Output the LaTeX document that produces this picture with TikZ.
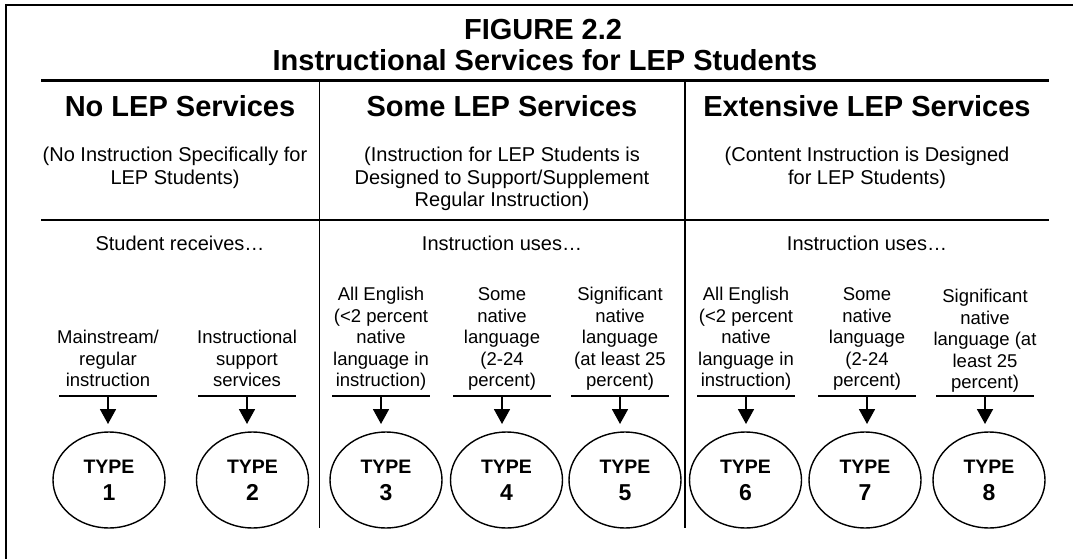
\documentclass[tikz,border=0pt]{standalone}
\usepackage{fontspec}
\setmainfont{Liberation Sans}
\usetikzlibrary{shapes.geometric,arrows.meta}

\begin{document}
\begin{tikzpicture}[x=1pt,y=-1pt,
        heading/.style={anchor=base,font=\bfseries\fontsize{29}{31}\selectfont},
        subhead/.style={anchor=north,align=center,inner sep=0pt,
            font=\fontsize{20}{22.5}\selectfont,execute at begin node=\strut},
        lead/.style={anchor=base,font=\fontsize{20}{22.5}\selectfont},
        choice/.style={anchor=south,align=center,inner sep=0pt,
            font=\fontsize{18.5}{21.5}\selectfont,execute at end node=\strut},
        barline/.style={inner sep=0pt,minimum width=97pt,minimum height=0pt},
        typebox/.style={ellipse,draw,line width=1.4pt,minimum width=112pt,
            minimum height=96pt,inner sep=0pt,outer sep=0pt,align=center,
            font=\bfseries\fontsize{19.5}{27}\selectfont},
        feed/.style={line width=1.8pt,-{Triangle[length=15pt,width=16pt]},
            shorten >=8pt}
        ]
        \useasboundingbox (0,0) rectangle (1073,559);
        % Frame and table rules
        \draw[line width=1.8pt] (1073,5) -- (6,5) -- (6,559);
        \draw[line width=3pt] (41,81) -- (1049,81);
        \draw[line width=1.8pt] (41,220) -- (1049,220);
        \draw[line width=1.8pt] (319.5,81) -- (319.5,528);
        \draw[line width=1.8pt] (685,81) -- (685,528);

        % Title
        \node[heading] (fig) at (543,40) {FIGURE 2.2};
        \node[heading] (figtitle) at (545,71) {Instructional Services for LEP Students};

        %% Column heads
        \node[heading] (none) at (180,117) {No LEP Services};
        \node[heading] (some) at (502,117) {Some LEP Services};
        \node[heading] (ext) at (867,117) {Extensive LEP Services};
        \node[subhead] (noneinfo) at (175,147) {(No Instruction Specifically for\\LEP Students)};
        \node[subhead] (someinfo) at (502,147) {(Instruction for LEP Students is\\Designed to Support/Supplement\\Regular Instruction)};
        \node[subhead] (extinfo) at (867,147) {(Content Instruction is Designed\\for LEP Students)};
        \node[lead] (noneask) at (180,250) {Student receives…};
        \node[lead] (someask) at (502,250) {Instruction uses…};
        \node[lead] (extask) at (867,250) {Instruction uses…};

        %% Choices
        \node[choice] (c1) at (108,393.5) {Mainstream/\\regular\\instruction};
        \node[choice] (c2) at (247,393.5) {Instructional\\support\\services};
        \node[choice] (c3) at (381,393.5) {All English\\(<2 percent\\native\\language in\\instruction)};
        \node[choice] (c4) at (502,393.5) {Some\\native\\language\\(2-24\\percent)};
        \node[choice] (c5) at (620,393.5) {Significant\\native\\language\\(at least 25\\percent)};
        \node[choice] (c6) at (746,393.5) {All English\\(<2 percent\\native\\language in\\instruction)};
        \node[choice] (c7) at (867,393.5) {Some\\native\\language\\(2-24\\percent)};
        \node[choice] (c8) at (985,395.5) {Significant\\native\\language (at\\least 25\\percent)};

        \node[barline] (b1) at (108,396) {};
        \node[barline] (b2) at (247,396) {};
        \node[barline] (b3) at (381,396) {};
        \node[barline] (b4) at (502,396) {};
        \node[barline] (b5) at (620,396) {};
        \node[barline] (b6) at (746,396) {};
        \node[barline] (b7) at (867,396) {};
        \node[barline] (b8) at (985,396) {};

        %% Types
        \node[typebox] (t1) at (109,480) {TYPE\\{\fontsize{23}{27}\selectfont 1}};
        \node[typebox] (t2) at (252.5,480) {TYPE\\{\fontsize{23}{27}\selectfont 2}};
        \node[typebox] (t3) at (386,480) {TYPE\\{\fontsize{23}{27}\selectfont 3}};
        \node[typebox] (t4) at (506.5,480) {TYPE\\{\fontsize{23}{27}\selectfont 4}};
        \node[typebox] (t5) at (625,480) {TYPE\\{\fontsize{23}{27}\selectfont 5}};
        \node[typebox] (t6) at (745.5,480) {TYPE\\{\fontsize{23}{27}\selectfont 6}};
        \node[typebox] (t7) at (865,480) {TYPE\\{\fontsize{23}{27}\selectfont 7}};
        \node[typebox] (t8) at (989,480) {TYPE\\{\fontsize{23}{27}\selectfont 8}};

        % Bars and arrows
        \draw[line width=1.3pt] (b1.west) -- (b1.east);
        \draw[line width=1.3pt] (b2.west) -- (b2.east);
        \draw[line width=1.3pt] (b3.west) -- (b3.east);
        \draw[line width=1.3pt] (b4.west) -- (b4.east);
        \draw[line width=1.3pt] (b5.west) -- (b5.east);
        \draw[line width=1.3pt] (b6.west) -- (b6.east);
        \draw[line width=1.3pt] (b7.west) -- (b7.east);
        \draw[line width=1.3pt] (b8.west) -- (b8.east);
        \draw[feed] (b1.center) -- (b1 |- t1.north);
        \draw[feed] (b2.center) -- (b2 |- t2.north);
        \draw[feed] (b3.center) -- (b3 |- t3.north);
        \draw[feed] (b4.center) -- (b4 |- t4.north);
        \draw[feed] (b5.center) -- (b5 |- t5.north);
        \draw[feed] (b6.center) -- (b6 |- t6.north);
        \draw[feed] (b7.center) -- (b7 |- t7.north);
        \draw[feed] (b8.center) -- (b8 |- t8.north);

    \end{tikzpicture}
\end{document}
